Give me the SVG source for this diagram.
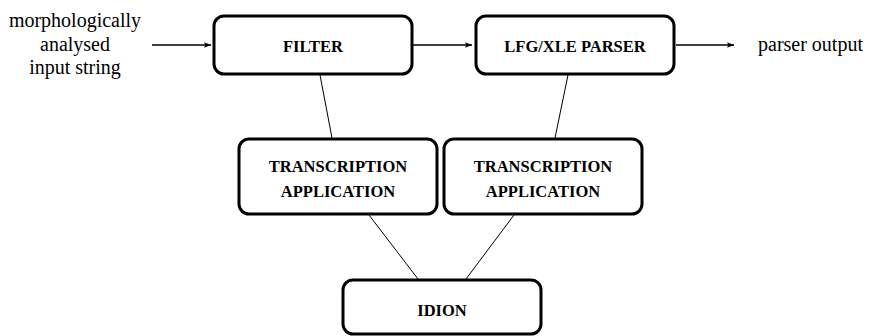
<svg xmlns="http://www.w3.org/2000/svg" width="870" height="336" viewBox="0 0 870 336">
<defs>
<marker id="ah" viewBox="0 0 10 10" refX="10" refY="5" markerWidth="7" markerHeight="7" markerUnits="userSpaceOnUse" orient="auto">
<path d="M0,1 L10,5 L0,9 L2,5 z" fill="#000"/>
</marker>
</defs>
<style>
.box{fill:#fff;stroke:#000;stroke-width:3}
.lbl{font-size:16.5px;font-weight:bold;text-anchor:middle;fill:#000}
.txt{font-size:20px;fill:#000}
.arr{stroke:#000;stroke-width:1.6;fill:none;marker-end:url(#ah)}
.ln{stroke:#000;stroke-width:1;fill:none}
</style>
<rect width="870" height="336" fill="#fff"/>
<g id="input-label" font-family="Liberation Serif, DejaVu Serif, serif">
<text class="txt" text-anchor="middle" x="75" y="27">morphologically</text>
<text class="txt" text-anchor="middle" x="75" y="51">analysed</text>
<text class="txt" text-anchor="middle" x="75" y="74">input string</text>
</g>
<g id="output-label" font-family="Liberation Serif, DejaVu Serif, serif">
<text class="txt" x="758" y="51">parser output</text>
</g>
<g id="connectors">
<line class="arr" x1="152" y1="45" x2="211" y2="45"/>
<line class="arr" x1="413" y1="45" x2="472" y2="45"/>
<line class="arr" x1="676" y1="45" x2="734" y2="45"/>
<line class="ln" x1="320" y1="75" x2="332" y2="138"/>
<line class="ln" x1="568" y1="75" x2="555" y2="138"/>
<line class="ln" x1="369" y1="215" x2="418" y2="279"/>
<line class="ln" x1="514" y1="215" x2="466" y2="279"/>
</g>
<g id="filter" font-family="Liberation Serif, DejaVu Serif, serif">
<rect class="box" x="214" y="16" width="198" height="58" rx="10"/>
<text class="lbl" x="313" y="52">FILTER</text>
</g>
<g id="parser" font-family="Liberation Serif, DejaVu Serif, serif">
<rect class="box" x="476" y="16" width="198" height="58" rx="10"/>
<text class="lbl" x="575" y="52">LFG/XLE PARSER</text>
</g>
<g id="trans1" font-family="Liberation Serif, DejaVu Serif, serif">
<rect class="box" x="239" y="139" width="198" height="75" rx="10"/>
<text class="lbl" x="338" y="172">TRANSCRIPTION</text>
<text class="lbl" x="338" y="197">APPLICATION</text>
</g>
<g id="trans2" font-family="Liberation Serif, DejaVu Serif, serif">
<rect class="box" x="444" y="139" width="198" height="75" rx="10"/>
<text class="lbl" x="543" y="172">TRANSCRIPTION</text>
<text class="lbl" x="543" y="197">APPLICATION</text>
</g>
<g id="idion" font-family="Liberation Serif, DejaVu Serif, serif">
<rect class="box" x="343" y="280" width="198" height="54" rx="10"/>
<text class="lbl" x="442" y="316">IDION</text>
</g>
</svg>
